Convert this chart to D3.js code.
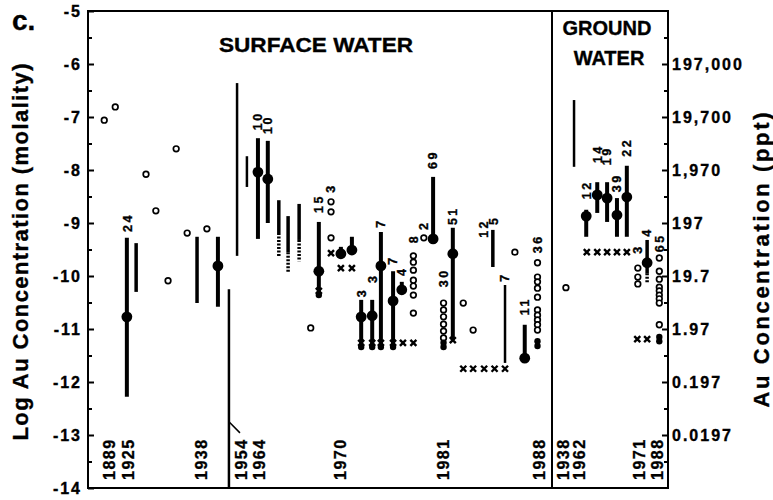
<!DOCTYPE html>
<html>
<head>
<meta charset="utf-8">
<script src="https://cdn.jsdelivr.net/npm/d3@7"></script>
<style>
    body { margin: 0; background: #fff; }
    svg { display: block; font-family: "Liberation Sans", Arial, Helvetica, sans-serif; font-weight: bold; }
    svg text { stroke: #000; stroke-width: 0.35px; }
</style>
</head>
<body>
<div id="chart"></div>
<script>
var svgWidth = 773;
var svgHeight = 500;

// y values are log Au concentration (molality); x values are the position of each study in the sequence (0-100)
var leftTicks = [-5, -6, -7, -8, -9, -10, -11, -12, -13, -14];
var minorTicks = [-5.5, -6.5, -7.5, -8.5, -9.5, -10.5, -11.5, -12.5, -13.5];
var rightTicks = [-6, -7, -8, -9, -10, -11, -12, -13];
var rightTickLabels = ["197,000", "19,700", "1,970", "197", "19.7", "1.97", "0.197", "0.0197"];

var groundStart = 80;

var surfaceYears = [[3.7, "1889"], [7.0, "1925"], [19.5, "1938"], [26.4, "1954"], [29.5, "1964"],
    [43.6, "1970"], [61.2, "1981"], [77.8, "1988"]];
var groundYears = [[81.9, "1938"], [84.7, "1962"], [95.1, "1971"], [98.2, "1988"]];

// [position, high, low, mean, kind, start of dotted part]
var ranges = [
    [6.7, -9.28, -12.28, -10.77, "mean"],
    [8.3, -9.38, -10.30, null, "plain"],
    [18.8, -9.26, -10.51, null, "plain"],
    [22.4, -9.26, -10.58, -9.81, "mean"],
    [24.3, -10.25, -14.0, null, "thin"],
    [25.7, -6.36, -9.62, null, "thin"],
    [27.4, -7.74, -8.32, null, "thin"],
    [29.3, -7.40, -9.30, -8.04, "mean"],
    [31.0, -7.45, -9.00, -8.17, "mean"],
    [32.9, -8.57, -9.64, null, "dashed", -9.19],
    [34.5, -8.87, -9.94, null, "dashed", -9.55],
    [36.4, -8.64, -9.72, null, "dashed", -9.32],
    [39.8, -8.98, -10.36, -9.91, "mean"],
    [43.6, -9.45, -9.58, -9.58, "mean"],
    [45.5, -9.26, -9.51, -9.51, "mean"],
    [47.1, -10.45, -11.34, -10.77, "mean"],
    [49.0, -10.45, -11.34, -10.75, "mean"],
    [50.5, -9.17, -11.34, -9.81, "mean"],
    [52.6, -9.91, -11.34, -10.47, "mean"],
    [54.1, -10.11, -10.26, -10.26, "mean"],
    [59.5, -8.13, -9.30, -9.30, "mean"],
    [62.9, -9.09, -11.21, -9.58, "mean"],
    [69.8, -9.13, -9.83, null, "plain"],
    [71.9, -10.17, -11.64, null, "thin"],
    [75.3, -10.92, -11.58, -11.55, "mean"],
    [83.8, -6.68, -7.94, null, "thin"],
    [85.9, -8.75, -9.26, -8.87, "mean"],
    [87.8, -8.23, -8.81, -8.47, "mean"],
    [89.5, -8.23, -8.98, -8.53, "mean"],
    [91.2, -8.53, -9.26, -8.85, "mean"],
    [92.9, -7.92, -9.26, -8.51, "mean"],
    [96.4, -9.32, -10.13, -9.75, "dashed", -9.95]
];

// number of samples: [position, value at foot of the label, text]
var countLabels = [
    [6.8, -9.17, "24"], [29.3, -7.25, "10"], [31.0, -7.32, "10"], [39.8, -8.81, "15"],
    [41.9, -8.43, "3"], [47.1, -10.40, "3"], [49.0, -10.13, "3"], [50.5, -9.09, "7"],
    [52.6, -9.79, "7"], [54.1, -10.0, "4"], [56.1, -9.38, "8"], [57.9, -9.13, "2"],
    [59.5, -7.98, "69"], [61.3, -10.21, "30"], [62.9, -9.04, "51"], [68.2, -9.28, "12"],
    [70.0, -9.04, "5"], [71.9, -10.11, "7"], [75.3, -10.74, "11"], [77.5, -9.57, "36"],
    [85.9, -8.55, "12"], [87.8, -7.87, "14"], [89.5, -7.91, "19"], [91.2, -8.42, "39"],
    [92.9, -7.75, "22"], [94.8, -9.58, "3"], [96.4, -9.26, "4"], [98.5, -9.55, "65"]
];

var openPts = [
    [2.8, -7.06], [4.7, -6.81], [10.0, -8.08], [11.7, -8.77], [13.8, -10.09], [15.2, -7.60],
    [17.1, -9.19], [20.5, -9.11], [38.4, -10.98],
    [41.9, -8.60], [41.9, -8.79], [41.9, -9.28],
    [56.1, -10.70], [56.1, -10.36], [56.1, -10.19], [56.1, -10.08], [56.1, -9.89], [56.1, -9.74], [56.1, -9.62],
    [57.9, -9.28],
    [61.3, -10.51], [61.3, -10.64], [61.3, -10.77], [61.3, -10.91], [61.3, -11.04], [61.3, -11.17],
    [64.7, -10.51], [66.4, -11.02], [73.6, -9.55],
    [77.5, -9.75], [77.5, -10.02], [77.5, -10.11], [77.5, -10.23], [77.5, -10.40], [77.5, -10.64],
    [77.5, -10.74], [77.5, -10.83], [77.5, -10.92], [77.5, -11.02],
    [82.4, -10.22],
    [94.8, -9.85], [94.8, -10.02], [94.8, -10.15],
    [98.5, -9.66], [98.5, -9.91], [98.5, -10.06], [98.5, -10.21], [98.5, -10.28], [98.5, -10.36],
    [98.5, -10.43], [98.5, -10.51], [98.5, -10.92]
];

var smallDots = [
    [39.8, -10.36], [47.1, -11.34], [49.0, -11.34], [50.5, -11.34], [52.6, -11.34],
    [61.3, -11.26], [61.3, -11.34], [77.5, -11.23], [77.5, -11.32], [98.5, -11.15], [98.5, -11.23]
];

var crossPts = [
    [41.9, -9.57], [43.6, -9.85], [45.5, -9.85], [39.8, -10.28],
    [47.1, -11.26], [49.0, -11.26], [50.5, -11.26], [52.6, -11.26], [54.3, -11.26], [56.1, -11.26],
    [62.9, -11.21], [64.7, -11.75], [66.4, -11.75], [68.3, -11.75], [70.1, -11.75], [71.9, -11.75],
    [86.0, -9.55], [87.8, -9.55], [89.5, -9.55], [91.2, -9.55], [92.9, -9.55],
    [94.7, -11.19], [96.4, -11.19]
];

// leader from the 1954 range to its year label
var pointer = [24.3, -12.75, 26.2, -12.96];

var svg = d3.select("#chart")
    .append("svg")
    .attr("width", svgWidth)
    .attr("height", svgHeight);

var x = d3.scaleLinear().domain([0, 100]).range([88, 668]);
var y = d3.scaleLinear().domain([-5, -14]).range([11, 488]);

// frame
var frame = svg.append("g").attr("stroke", "#000").attr("stroke-width", 2);
frame.append("rect")
    .attr("x", x(0)).attr("y", y(-5))
    .attr("width", x(100) - x(0)).attr("height", y(-14) - y(-5))
    .attr("fill", "none");
frame.append("line")
    .attr("x1", x(groundStart)).attr("x2", x(groundStart))
    .attr("y1", y(-5)).attr("y2", y(-14));

// axes
function styleAxis(g) {
    g.select(".domain").remove();
    g.attr("font-family", null).attr("font-size", 16).attr("font-weight", "bold");
    g.selectAll("line").attr("stroke-width", 2);
    g.selectAll("text").attr("letter-spacing", 2).attr("fill", "#000");
}

svg.append("g")
    .attr("transform", `translate(${x(0)},0)`)
    .call(d3.axisLeft(y).tickValues(leftTicks).tickSize(-6).tickPadding(6).tickFormat(d => String(d)))
    .call(styleAxis);
svg.append("g")
    .attr("transform", `translate(${x(0)},0)`)
    .call(d3.axisLeft(y).tickValues(minorTicks).tickSize(-4).tickFormat(""))
    .call(styleAxis);
svg.append("g")
    .attr("transform", `translate(${x(100)},0)`)
    .call(d3.axisRight(y).tickValues(rightTicks).tickSize(-6).tickPadding(4)
        .tickFormat((d, i) => rightTickLabels[i]))
    .call(styleAxis);
svg.append("g")
    .attr("transform", `translate(${x(100)},0)`)
    .call(d3.axisRight(y).tickValues(minorTicks).tickSize(-4).tickFormat(""))
    .call(styleAxis);

// range bars
var marks = svg.append("g");
var widths = { mean: 4, plain: 3.5, thin: 2.5, dashed: 3.5 };

ranges.forEach(function (r) {
    var solidEnd = r[4] === "dashed" ? r[5] : r[2];
    marks.append("line")
        .attr("x1", x(r[0])).attr("x2", x(r[0]))
        .attr("y1", y(r[1])).attr("y2", y(solidEnd))
        .attr("stroke", "#000")
        .attr("stroke-width", widths[r[4]]);
    if (r[4] === "dashed") {
        marks.append("line")
            .attr("x1", x(r[0])).attr("x2", x(r[0]))
            .attr("y1", y(r[5])).attr("y2", y(r[2]))
            .attr("stroke", "#000")
            .attr("stroke-width", widths[r[4]])
            .attr("stroke-dasharray", "2,1.5");
    }
    if (r[3] !== null) {
        marks.append("circle")
            .attr("cx", x(r[0])).attr("cy", y(r[3]))
            .attr("r", 5.4)
            .attr("fill", "#000");
    }
});

marks.append("line")
    .attr("x1", x(pointer[0])).attr("y1", y(pointer[1]))
    .attr("x2", x(pointer[2])).attr("y2", y(pointer[3]))
    .attr("stroke", "#000").attr("stroke-width", 1.5);

// individual samples
marks.selectAll(".open")
    .data(openPts)
    .enter()
    .append("circle")
    .attr("class", "open")
    .attr("cx", d => x(d[0]))
    .attr("cy", d => y(d[1]))
    .attr("r", 2.8)
    .attr("fill", "#fff")
    .attr("stroke", "#000")
    .attr("stroke-width", 1.7);

marks.selectAll(".dot")
    .data(smallDots)
    .enter()
    .append("circle")
    .attr("class", "dot")
    .attr("cx", d => x(d[0]))
    .attr("cy", d => y(d[1]))
    .attr("r", 3.2)
    .attr("fill", "#000");

marks.selectAll(".cross")
    .data(crossPts)
    .enter()
    .append("path")
    .attr("class", "cross")
    .attr("transform", d => `translate(${x(d[0])},${y(d[1])})`)
    .attr("d", "M-3,-3L3,3M-3,3L3,-3")
    .attr("stroke", "#000")
    .attr("stroke-width", 2.4);

// sample counts
svg.selectAll(".count")
    .data(countLabels)
    .enter()
    .append("text")
    .attr("class", "count")
    .attr("transform", d => `translate(${x(d[0])},${y(d[1])}) rotate(-90)`)
    .attr("dy", "0.35em")
    .attr("font-size", 12.5)
    .attr("letter-spacing", 2.5)
    .text(d => d[2]);

// years
svg.selectAll(".year")
    .data(surfaceYears.concat(groundYears))
    .enter()
    .append("text")
    .attr("class", "year")
    .attr("transform", d => `translate(${x(d[0])},480) rotate(-90)`)
    .attr("dy", "0.35em")
    .attr("font-size", 16)
    .attr("letter-spacing", 1.5)
    .text(d => d[1]);

// titles
svg.append("text").attr("x", 12).attr("y", 30).attr("font-size", 28).text("c.");

svg.append("text")
    .attr("x", 219).attr("y", 52)
    .attr("font-size", 21)
    .attr("textLength", 194)
    .attr("lengthAdjust", "spacingAndGlyphs")
    .text("SURFACE WATER");

svg.append("text")
    .attr("x", 607).attr("y", 35)
    .attr("font-size", 20)
    .attr("text-anchor", "middle")
    .text("GROUND");
svg.append("text")
    .attr("x", 609).attr("y", 65)
    .attr("font-size", 20)
    .attr("text-anchor", "middle")
    .text("WATER");

svg.append("text")
    .attr("transform", "translate(28,252) rotate(-90)")
    .attr("text-anchor", "middle")
    .attr("font-size", 22)
    .attr("textLength", 377)
    .attr("lengthAdjust", "spacing")
    .text("Log  Au  Concentration  (molality)");

svg.append("text")
    .attr("transform", "translate(769,260) rotate(-90)")
    .attr("text-anchor", "middle")
    .attr("font-size", 22)
    .attr("textLength", 295)
    .attr("lengthAdjust", "spacing")
    .text("Au  Concentration  (ppt)");
</script>
</body>
</html>
